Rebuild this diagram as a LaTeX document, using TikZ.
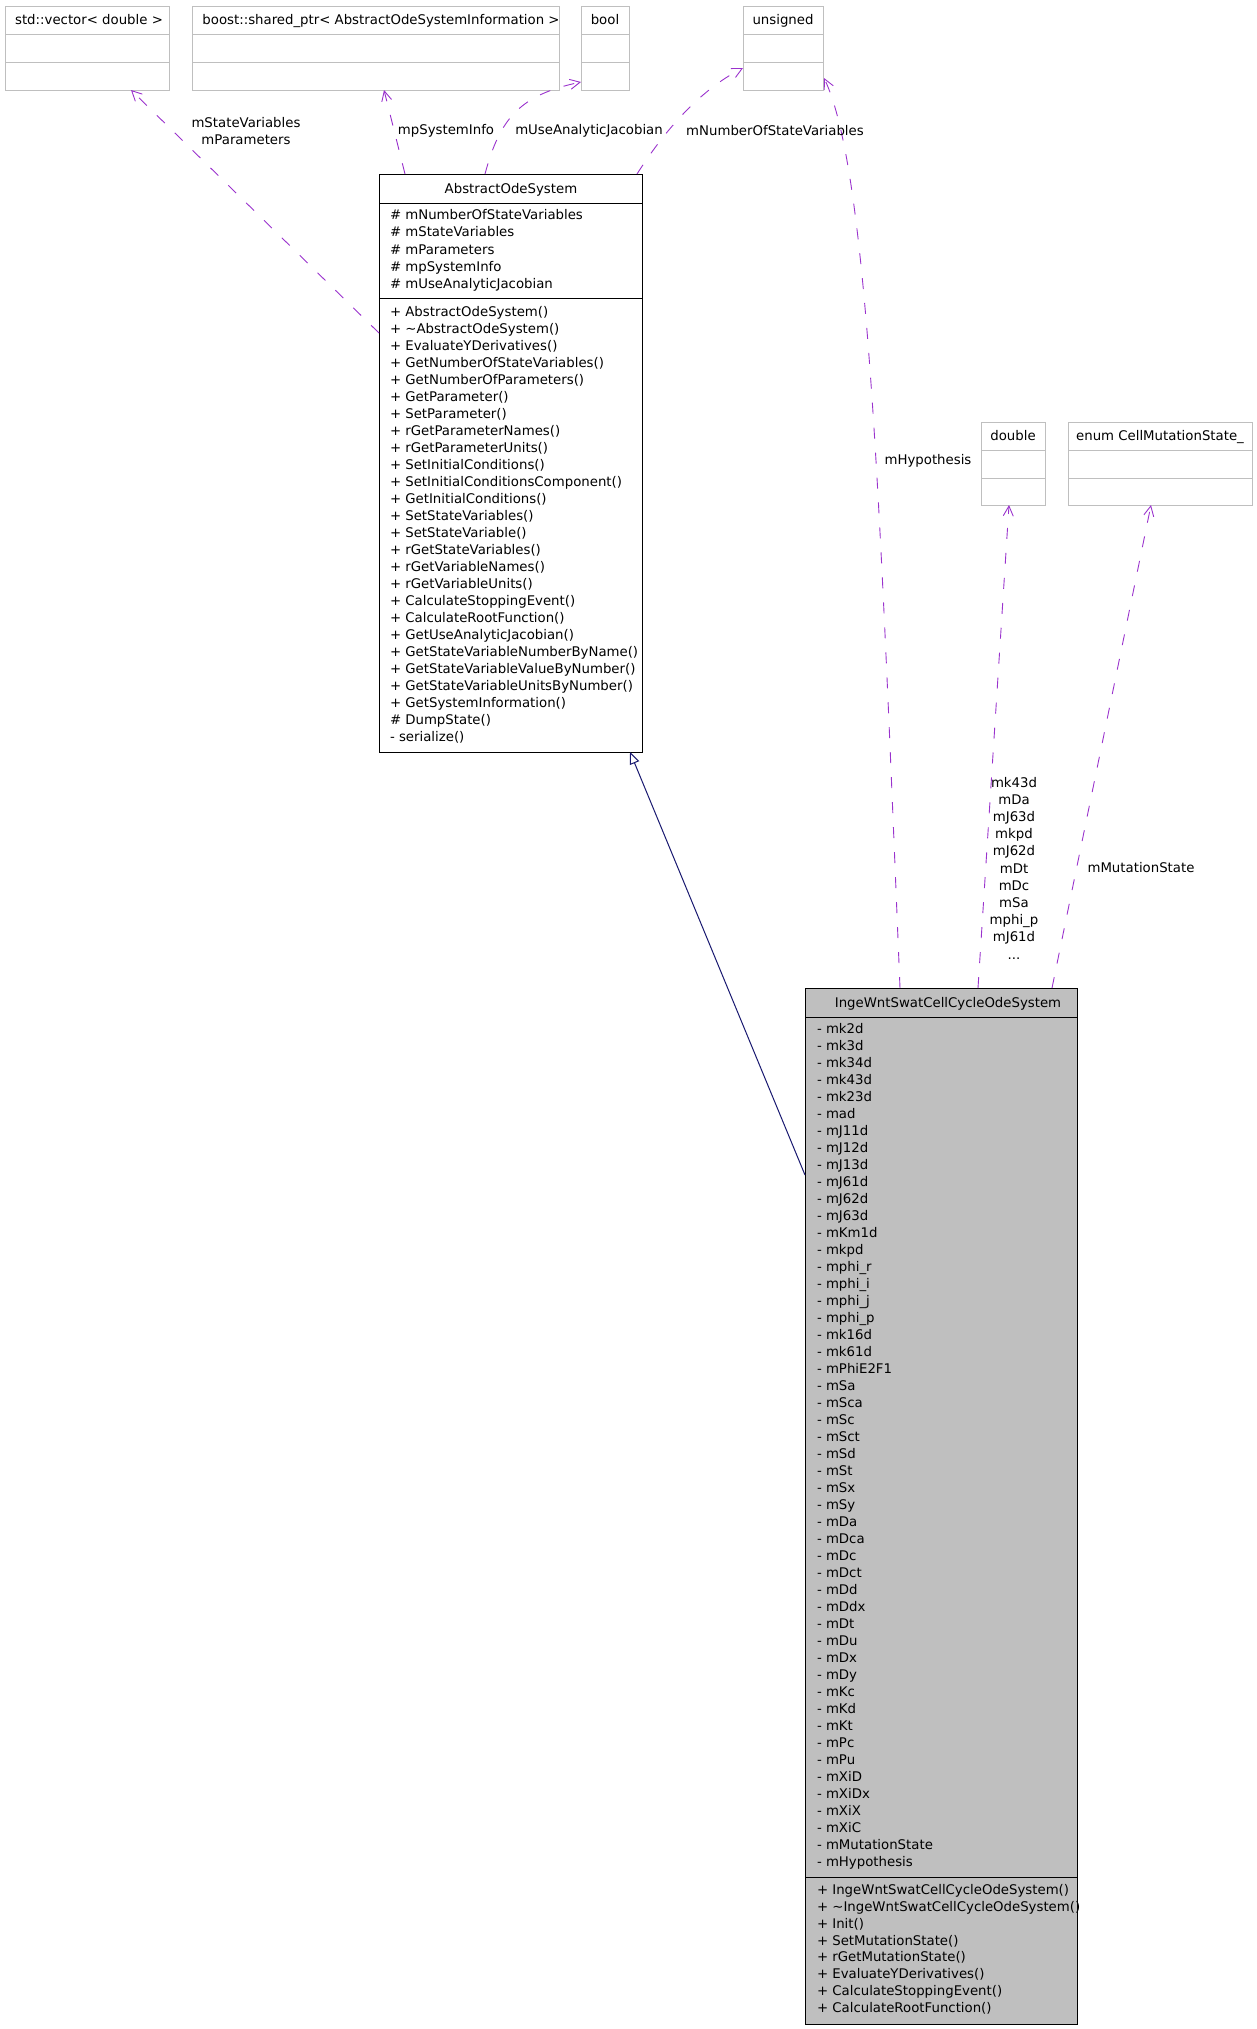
\documentclass[tikz,border=0pt]{standalone}
\usepackage{fontspec}
\setmainfont{DejaVu Sans}
\usetikzlibrary{arrows.meta}
\definecolor{edgepurple}{HTML}{9A32CD}
\definecolor{boxgray}{HTML}{BFBFBF}
\definecolor{inhnavy}{HTML}{191970}
\begin{document}
\begin{tikzpicture}[x=1pt,y=-1pt,
  every node/.style={font=\fontsize{13.3}{17.2}\selectfont, inner sep=0pt, outer sep=0pt},
  extbox/.style={draw=boxgray, line width=1pt, anchor=north west, minimum height=84pt},
  clsbox/.style={draw=black, line width=1pt, anchor=north west},
  divgray/.style={draw=boxgray, line width=1pt},
  divblack/.style={draw=black, line width=1pt},
  dep/.style={draw=edgepurple, line width=0.9pt, dash pattern=on 11pt off 14pt, -{Straight Barb[length=10pt,width=10pt]}},
  inh/.style={draw=inhnavy, line width=1pt, -{Triangle[open,length=12pt,width=10pt,fill=white]}},
  row/.style={anchor=base west},
  ttl/.style={anchor=base},
  lbl/.style={align=center}]
\useasboundingbox (0,0) rectangle (1257,2029);

% external type boxes
\node[extbox, minimum width=164pt] (vec) at (5,6) {};
\node[extbox, minimum width=367pt] (boost) at (192,6) {};
\node[extbox, minimum width=48pt] (bool) at (581,6) {};
\node[extbox, minimum width=80pt] (uns) at (743,6) {};
\node[extbox, minimum width=64pt, minimum height=83pt] (dbl) at (981,422) {};
\node[extbox, minimum width=184pt, minimum height=83pt] (enm) at (1068,422) {};
\foreach \b in {vec,boost,bool,uns,dbl,enm}{
  \draw[divgray] ([yshift=-28pt]\b.north west) -- ([yshift=-28pt]\b.north east);
  \draw[divgray] ([yshift=-56pt]\b.north west) -- ([yshift=-56pt]\b.north east);
}
\node[ttl] (tvec) at (89,24.5) {std::vector< double >};
\node[ttl] (tboost) at (381,24.5) {boost::shared\_ptr< AbstractOdeSystemInformation >};
\node[ttl] (tbool) at (605,24.5) {bool};
\node[ttl] (tuns) at (783,24.5) {unsigned};
\node[ttl] (tdbl) at (1013,440.5) {double};
\node[ttl] (tenm) at (1160,440.5) {enum CellMutationState\_};

% AbstractOdeSystem
\node[clsbox, minimum width=263pt, minimum height=578pt] (abs) at (379,174) {};
\draw[divblack] ([yshift=-29pt]abs.north west) -- ([yshift=-29pt]abs.north east);
\draw[divblack] ([yshift=-124pt]abs.north west) -- ([yshift=-124pt]abs.north east);
\node[ttl] (tabs) at (511,193) {AbstractOdeSystem};
\foreach \t [count=\i from 0] in {\# mNumberOfStateVariables,\# mStateVariables,\# mParameters,\# mpSystemInfo,\# mUseAnalyticJacobian}
  \node[row] (aa\i) at (390,{219.5+17.25*\i}) {\t};
\foreach \t [count=\i from 0] in {+ AbstractOdeSystem(),+ \textasciitilde AbstractOdeSystem(),+ EvaluateYDerivatives(),+ GetNumberOfStateVariables(),+ GetNumberOfParameters(),+ GetParameter(),+ SetParameter(),+ rGetParameterNames(),+ rGetParameterUnits(),+ SetInitialConditions(),+ SetInitialConditionsComponent(),+ GetInitialConditions(),+ SetStateVariables(),+ SetStateVariable(),+ rGetStateVariables(),+ rGetVariableNames(),+ rGetVariableUnits(),+ CalculateStoppingEvent(),+ CalculateRootFunction(),+ GetUseAnalyticJacobian(),+ GetStateVariableNumberByName(),+ GetStateVariableValueByNumber(),+ GetStateVariableUnitsByNumber(),+ GetSystemInformation(),\# DumpState(),- serialize()}
  \node[row] (am\i) at (390,{316.5+17*\i}) {\t};

% IngeWntSwatCellCycleOdeSystem
\node[clsbox, fill=boxgray, minimum width=272pt, minimum height=1036pt] (inge) at (805,988) {};
\draw[divblack] ([yshift=-29pt]inge.north west) -- ([yshift=-29pt]inge.north east);
\draw[divblack] ([yshift=-889pt]inge.north west) -- ([yshift=-889pt]inge.north east);
\node[ttl] (tinge) at (948,1007) {IngeWntSwatCellCycleOdeSystem};
\foreach \t [count=\i from 0] in {mk2d,mk3d,mk34d,mk43d,mk23d,mad,mJ11d,mJ12d,mJ13d,mJ61d,mJ62d,mJ63d,mKm1d,mkpd,mphi\_r,mphi\_i,mphi\_j,mphi\_p,mk16d,mk61d,mPhiE2F1,mSa,mSca,mSc,mSct,mSd,mSt,mSx,mSy,mDa,mDca,mDc,mDct,mDd,mDdx,mDt,mDu,mDx,mDy,mKc,mKd,mKt,mPc,mPu,mXiD,mXiDx,mXiX,mXiC,mMutationState,mHypothesis}
  \node[row] (ia\i) at (817,{1033.5+17*\i}) {- \t};
\foreach \t [count=\i from 0] in {IngeWntSwatCellCycleOdeSystem(),\textasciitilde IngeWntSwatCellCycleOdeSystem(),Init(),SetMutationState(),rGetMutationState(),EvaluateYDerivatives(),CalculateStoppingEvent(),CalculateRootFunction()}
  \node[row] (im\i) at (817,{1894.5+16.86*\i}) {+ \t};

% connectors
\draw[dep] ([yshift=-159pt]abs.north west) -- ([xshift=126pt]vec.south west);
\draw[dep] ([xshift=26pt]abs.north west) -- ([xshift=192pt]boost.south west);
\draw[dep] ([xshift=106pt]abs.north west) .. controls (500,118) and (520,95) .. ([yshift=8pt]bool.south west);
\draw[dep] ([xshift=-5pt]abs.north east) .. controls (665,130) and (700,90) .. ([yshift=-62pt]uns.north west);
\draw[dep] ([xshift=95pt]inge.north west) .. controls (880,500) and (868,170) .. ([xshift=81pt,yshift=12pt]uns.south west);
\draw[dep] ([xshift=173pt]inge.north west) -- ([xshift=28pt]dbl.south west);
\draw[dep] ([xshift=247pt]inge.north west) -- ([xshift=83pt]enm.south west);
\draw[inh] ([yshift=-187pt]inge.north west) -- ([xshift=-12pt]abs.south east);

% connector labels
\node[lbl] (l1) at (246,131) {mStateVariables\\mParameters};
\node[lbl] (l2) at (446,131) {mpSystemInfo};
\node[lbl] (l3) at (589,131) {mUseAnalyticJacobian};
\node[lbl] (l4) at (775,131) {mNumberOfStateVariables};
\node[lbl] (l5) at (928,461) {mHypothesis};
\node[lbl] (l6) at (1014,868) {mk43d\\mDa\\mJ63d\\mkpd\\mJ62d\\mDt\\mDc\\mSa\\mphi\_p\\mJ61d\\...};
\node[lbl] (l7) at (1141,868) {mMutationState};
\end{tikzpicture}
\end{document}
